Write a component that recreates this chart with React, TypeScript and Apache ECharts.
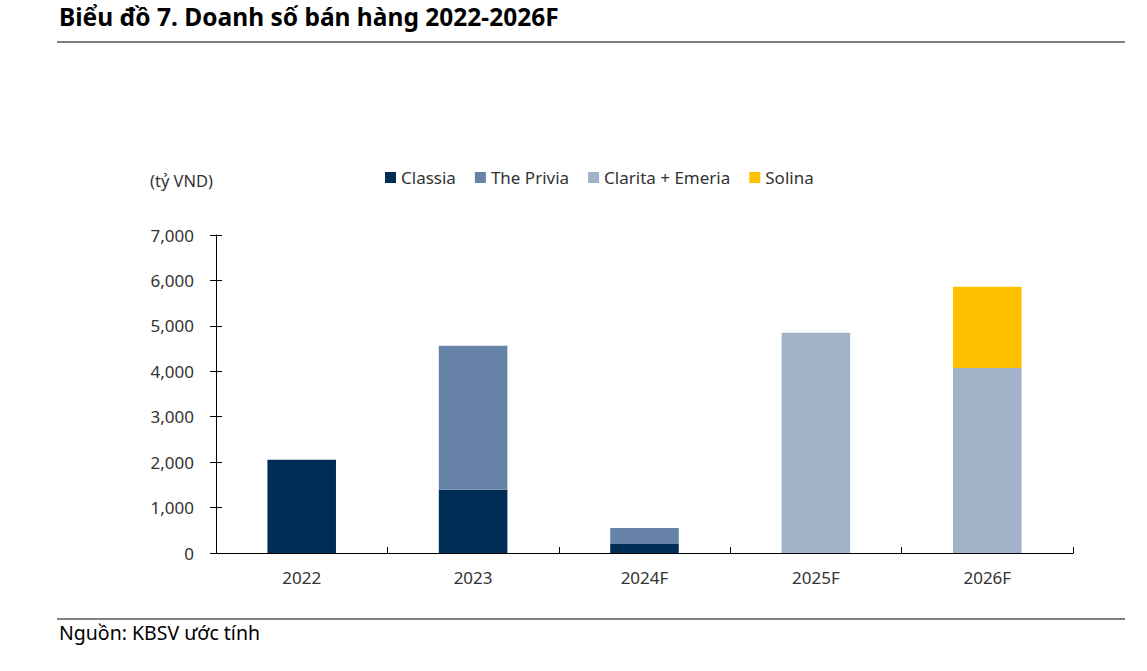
import React, { useEffect, useRef } from "react";
import * as echarts from "echarts";

const categories = ["2022", "2023", "2024F", "2025F", "2026F"];
const classia = [2050, 1390, 200, 0, 0];
const privia = [0, 3170, 350, 0, 0];
const claritaEmeria = [0, 0, 0, 4850, 4070];
const solina = [0, 0, 0, 0, 1790];
const seriesNames = ["Classia", "The Privia", "Clarita + Emeria", "Solina"];
const colors = ["#002D56", "#6683A7", "#A2B2C9", "#FFC000"];

const FONT = "'Noto Sans', 'Open Sans', sans-serif";

export default function App() {
  const ref = useRef<HTMLDivElement>(null);
  useEffect(() => {
    if (!ref.current) return;
    const chart = echarts.init(ref.current, undefined, { renderer: "svg" });
    const data = [classia, privia, claritaEmeria, solina];
    chart.setOption({
      animation: false,
      textStyle: { fontFamily: FONT },
      legend: {
        top: 164,
        left: 380,
        itemWidth: 11,
        itemHeight: 11,
        itemGap: 19,
        icon: "rect",
        textStyle: { fontSize: 17, color: "#333", fontFamily: FONT, padding: [0, 0, 0, 0] },
        data: seriesNames,
      },
      grid: { left: 216, right: 74, top: 235, bottom: 118, containLabel: false },
      xAxis: {
        type: "category",
        data: categories,
        axisLine: { lineStyle: { color: "#000", width: 1.2 } },
        axisTick: { show: true, inside: true, length: 6, lineStyle: { color: "#000" } },
        axisLabel: { fontSize: 17, color: "#333", margin: 16, fontFamily: FONT },
      },
      yAxis: [
        {
          type: "value",
          min: 0,
          max: 7000,
          interval: 1000,
          axisLine: { show: true, lineStyle: { color: "#000", width: 1 } },
          axisTick: { show: true, length: 6, lineStyle: { color: "#000" } },
          axisLabel: {
            fontSize: 17,
            color: "#333",
            margin: 22,
            fontFamily: FONT,
            formatter: (v: number) => v.toLocaleString("en-US"),
          },
          splitLine: { show: false },
        },
        {
          type: "value",
          position: "left",
          min: 0,
          max: 7000,
          interval: 1000,
          axisLine: { show: false },
          axisTick: { show: true, inside: true, length: 6, lineStyle: { color: "#000" } },
          axisLabel: { show: false },
          splitLine: { show: false },
        },
      ],
      series: seriesNames.map((name, i) => ({
        name,
        type: "bar",
        stack: "total",
        barWidth: "40%",
        itemStyle: { color: colors[i] },
        data: data[i].map((v) => (v === 0 ? null : v)),
      })),
      graphic: [
        {
          type: "text",
          left: 59,
          top: 4,
          style: { text: "Biểu đồ 7. Doanh số bán hàng 2022-2026F", fontSize: 24.5, fontWeight: "bold", fill: "#000", fontFamily: FONT },
        },
        { type: "line", shape: { x1: 57, y1: 42, x2: 1125, y2: 42 }, style: { stroke: "#000", lineWidth: 1 } },
        {
          type: "text",
          left: 150,
          top: 172,
          style: { text: "(tỷ VND)", fontSize: 16.5, fill: "#333", fontFamily: FONT },
        },
        { type: "line", shape: { x1: 57, y1: 619, x2: 1125, y2: 619 }, style: { stroke: "#000", lineWidth: 1 } },
        {
          type: "text",
          left: 59,
          top: 622,
          style: { text: "Nguồn: KBSV ước tính", fontSize: 19.5, fill: "#000", fontFamily: FONT },
        },
      ],
    });
    return () => chart.dispose();
  }, []);
  return <div ref={ref} style={{ position: "absolute", left: 0, top: 0, width: 1147, height: 671 }} />;
}
